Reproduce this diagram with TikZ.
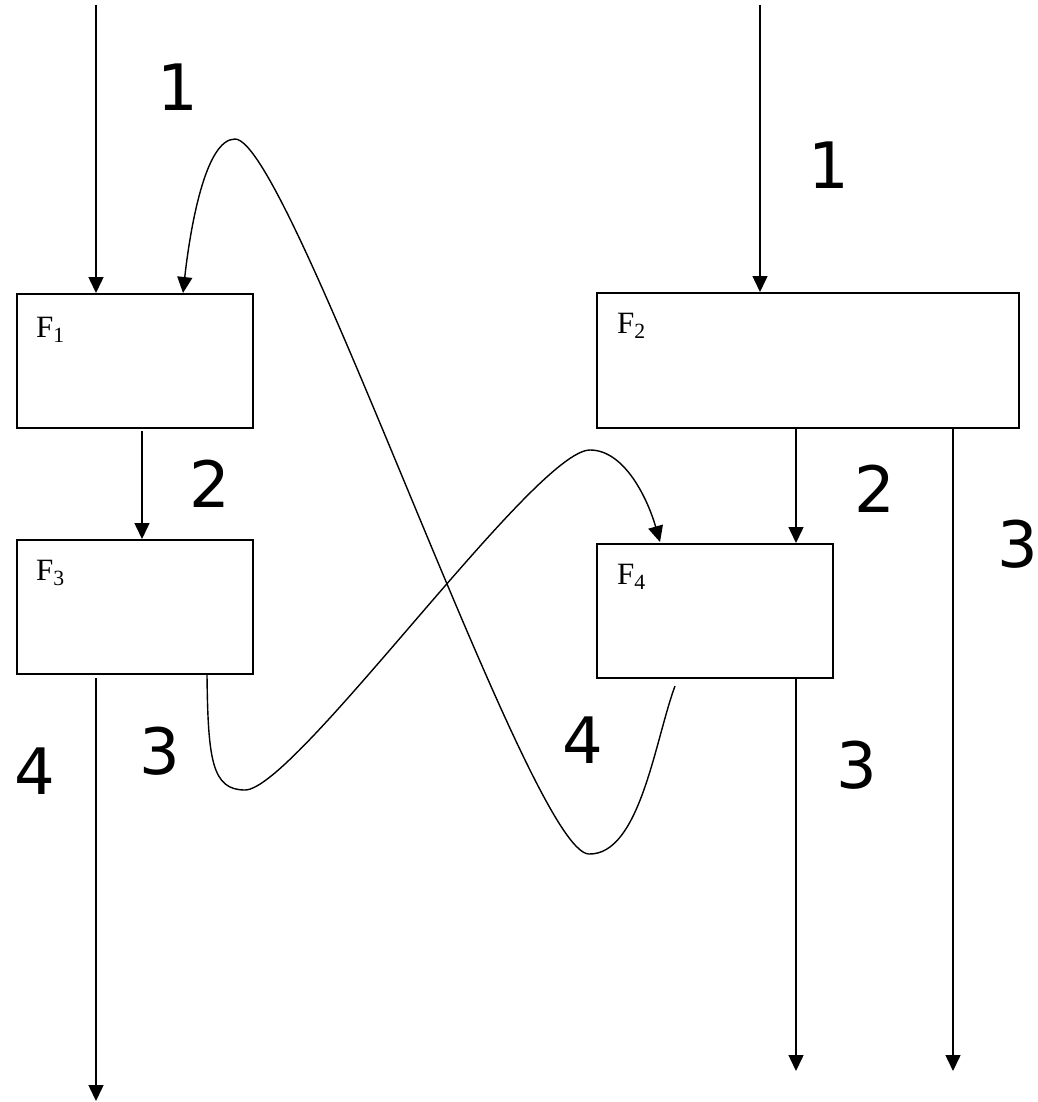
\documentclass[tikz,border=0pt]{standalone}
\usepackage{fontspec}
\setmainfont{Liberation Serif}
\newfontfamily\digitfont{DejaVu Sans}
\usetikzlibrary{arrows.meta,positioning}

\tikzset{
  func/.style={draw, line width=1.8pt, inner sep=0pt, anchor=north west},
  fname/.style={font=\fontsize{31}{31}\selectfont, anchor=base west, inner sep=0pt},
  flow/.style={line width=1.5pt, -{Triangle[length=16pt,width=15pt]}},
  loop/.style={flow, line width=1.4pt},
  num/.style={font=\digitfont\fontsize{64}{64}\selectfont}
}

\begin{document}
\begin{tikzpicture}[x=1pt, y=-1pt]
  \useasboundingbox (0,0) rectangle (1037,1102);
  % the four blocks
  \node[func, minimum width=236pt, minimum height=134pt] (F1) at (16,293) {};
  \node[func, minimum width=422pt, minimum height=135pt] (F2) at (596,292) {};
  \node[func, minimum width=236pt, minimum height=134pt] (F3) at (16,539) {};
  \node[func, minimum width=236pt, minimum height=134pt] (F4) at (596,543) {};
  \node[fname] (F1name) at (36,337) {F\textsubscript{1}};
  \node[fname] (F2name) at (617,333) {F\textsubscript{2}};
  \node[fname] (F3name) at (36,580) {F\textsubscript{3}};
  \node[fname] (F4name) at (617,584) {F\textsubscript{4}};
  % free ends
  \coordinate (in1) at (96,5);
  \coordinate (in2) at (760,5);
  \coordinate (f1out) at (142,431);
  \coordinate (f2outa) at (796,427);
  \coordinate (f2outb) at (953,427);
  \coordinate (f3outa) at (96,678);
  \coordinate (f3outb) at (207,675);
  \coordinate (f4outa) at (796,677);
  \coordinate (f4outb) at (675,686);
  \coordinate (out3) at (96,1101);
  \coordinate (out4) at (796,1071);
  \coordinate (out2) at (953,1071);
  \coordinate (f1in) at (183,293);
  \coordinate (f4in) at (660,542);
  % straight flows
  \draw[flow] (in1) -- (in1 |- F1.north);
  \draw[flow] (in2) -- (in2 |- F2.north);
  \draw[flow] (f1out) -- (f1out |- F3.north);
  \draw[flow] (f2outa) -- (f2outa |- F4.north);
  \draw[flow] (f2outb) -- (out2);
  \draw[flow] (f4outa) -- (out4);
  \draw[flow] (f3outa) -- (out3);
  % crossing feedback flows
  \draw[loop] (f4outb) .. controls (655,740) and (640,855) .. (589,854)
    .. controls (530,854) and (290,139) .. (235,139)
    .. controls (205,139) and (190,230) .. (f1in);
  \draw[loop] (f3outb) .. controls (208,760) and (212,790) .. (245,790)
    .. controls (295,790) and (535,450) .. (590,450)
    .. controls (625,450) and (648,500) .. (f4in);
  % flow numbers
  \node[num] (n1a) at (178,87) {1};
  \node[num] (n1b) at (829,165) {1};
  \node[num] (n2a) at (210,484) {2};
  \node[num] (n2b) at (875,489) {2};
  \node[num] (n3a) at (160,751) {3};
  \node[num] (n3b) at (857,765) {3};
  \node[num] (n3c) at (1018,544) {3};
  \node[num] (n4a) at (35,771) {4};
  \node[num] (n4b) at (583,740) {4};
\end{tikzpicture}
\end{document}
